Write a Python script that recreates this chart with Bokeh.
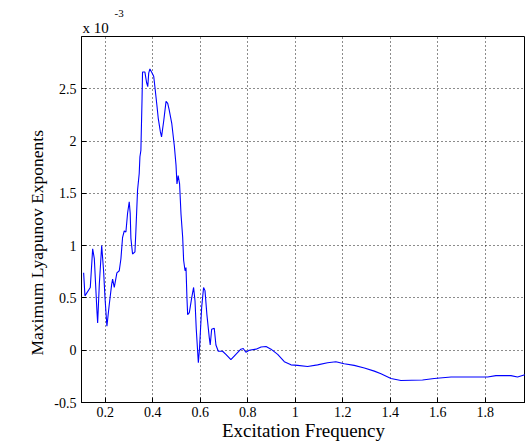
from bokeh.plotting import figure
from bokeh.models import Range1d, FixedTicker, Title
from bokeh.embed import file_html
from bokeh.resources import INLINE

# Excitation frequency and maximum Lyapunov exponent (x 1e-3)
freq = [0.109, 0.1145, 0.137, 0.147, 0.154, 0.165, 0.168, 0.175, 0.185, 0.193,
        0.199, 0.207, 0.217, 0.227, 0.231, 0.238, 0.249, 0.259, 0.266, 0.273,
        0.280, 0.287, 0.294, 0.301, 0.305, 0.308, 0.315, 0.325, 0.329, 0.336,
        0.343, 0.346, 0.350, 0.355, 0.357, 0.367, 0.374, 0.379, 0.383, 0.388,
        0.395, 0.404, 0.409, 0.418, 0.423, 0.432, 0.437, 0.446, 0.456, 0.463,
        0.469, 0.480, 0.491, 0.498, 0.502, 0.507, 0.513, 0.519, 0.526, 0.530,
        0.536, 0.540, 0.544, 0.547, 0.554, 0.564, 0.572, 0.578, 0.583, 0.589,
        0.592, 0.597, 0.606, 0.614, 0.620, 0.628, 0.638, 0.642, 0.648, 0.659,
        0.666, 0.676, 0.694, 0.708, 0.729, 0.750, 0.771, 0.781, 0.792, 0.806,
        0.835, 0.856, 0.877, 0.898, 0.926, 0.954, 0.982, 1.010, 1.052, 1.094,
        1.136, 1.171, 1.206, 1.248, 1.291, 1.333, 1.361, 1.403, 1.445, 1.536,
        1.585, 1.656, 1.740, 1.810, 1.845, 1.908, 1.936, 1.967]
lyap = [0.74, 0.52, 0.60, 0.97, 0.875, 0.375, 0.26, 0.63, 1.00, 0.76,
        0.50, 0.23, 0.44, 0.63, 0.68, 0.60, 0.74, 0.76, 0.875, 1.08,
        1.14, 1.13, 1.31, 1.42, 1.31, 1.07, 0.92, 0.94, 1.14, 1.53,
        1.69, 1.85, 1.91, 2.41, 2.66, 2.66, 2.56, 2.52, 2.65, 2.69,
        2.66, 2.62, 2.52, 2.33, 2.22, 2.09, 2.04, 2.19, 2.38, 2.36,
        2.30, 2.17, 1.95, 1.77, 1.59, 1.67, 1.59, 1.30, 1.08, 0.86,
        0.76, 0.79, 0.50, 0.34, 0.36, 0.50, 0.60, 0.47, 0.21, -0.01,
        -0.12, 0.02, 0.41, 0.60, 0.57, 0.34, 0.12, 0.05, 0.20, 0.21,
        0.05, -0.01, -0.01, -0.04, -0.09, -0.04, 0.01, 0.016, -0.02, 0.0,
        0.01, 0.03, 0.035, 0.01, -0.04, -0.11, -0.14, -0.145, -0.155, -0.14,
        -0.12, -0.11, -0.13, -0.145, -0.17, -0.20, -0.225, -0.27, -0.29, -0.285,
        -0.27, -0.256, -0.256, -0.256, -0.243, -0.243, -0.256, -0.234]

x_ticks = [0.2, 0.4, 0.6, 0.8, 1.0, 1.2, 1.4, 1.6, 1.8]
y_ticks = [-0.5, 0.0, 0.5, 1.0, 1.5, 2.0, 2.5]
x_labels = {0.2: "0.2", 0.4: "0.4", 0.6: "0.6", 0.8: "0.8", 1.0: "1",
            1.2: "1.2", 1.4: "1.4", 1.6: "1.6", 1.8: "1.8"}
y_labels = {-0.5: "-0.5", 0.0: "0", 0.5: "0.5", 1.0: "1", 1.5: "1.5",
            2.0: "2", 2.5: "2.5"}

FONT = "Liberation Serif"

p = figure(width=525, height=448, output_backend="svg", toolbar_location=None,
           x_range=Range1d(0.1, 1.9695), y_range=Range1d(-0.5, 3.0),
           min_border_left=81, min_border_right=0, min_border_top=36,
           min_border_bottom=46, x_axis_label="Excitation Frequency")
p.background_fill_color = "white"
p.border_fill_color = "white"
p.outline_line_color = "black"
p.outline_line_width = 1
p.title.visible = False

p.line(freq, lyap, line_color="#0000ff", line_width=1.1)

for ax, ticks, labels in ((p.xaxis[0], x_ticks, x_labels), (p.yaxis[0], y_ticks, y_labels)):
    ax.ticker = FixedTicker(ticks=ticks)
    ax.major_label_overrides = labels
    ax.minor_tick_line_color = None
    ax.major_tick_in = 5
    ax.major_tick_out = 0
    ax.axis_line_color = "black"
    ax.major_tick_line_color = "black"
    ax.major_label_text_font = FONT
    ax.major_label_text_font_size = "14px"
    ax.major_label_text_color = "black"
    ax.axis_label_text_font = FONT
    ax.axis_label_text_font_size = "19px"
    ax.axis_label_text_font_style = "normal"
    ax.axis_label_text_color = "black"

p.xaxis.major_label_standoff = 4
p.xaxis.axis_label_standoff = 0
p.yaxis.major_label_standoff = 5

for g, ticks in ((p.xgrid[0], x_ticks), (p.ygrid[0], y_ticks)):
    g.ticker = FixedTicker(ticks=ticks)
    g.grid_line_color = "black"
    g.grid_line_dash = "1 3"
    g.grid_line_width = 1
    g.grid_line_alpha = 0.9

p.add_layout(Title(text="Maximum Lyapunov Exponents", align="left", offset=47,
                   standoff=9, text_font=FONT, text_font_size="17.5px",
                   text_color="black", text_font_style="normal"), "left")

p.add_layout(Title(text="x 10", align="left", offset=1, standoff=2,
                   text_font=FONT, text_font_size="15px", text_color="black",
                   text_font_style="normal"), "above")
p.add_layout(Title(text="-3", align="left", offset=33, standoff=0,
                   text_font=FONT, text_font_size="11px", text_color="black",
                   text_font_style="normal"), "above")

open("out.html", "w").write(file_html(p, INLINE))
